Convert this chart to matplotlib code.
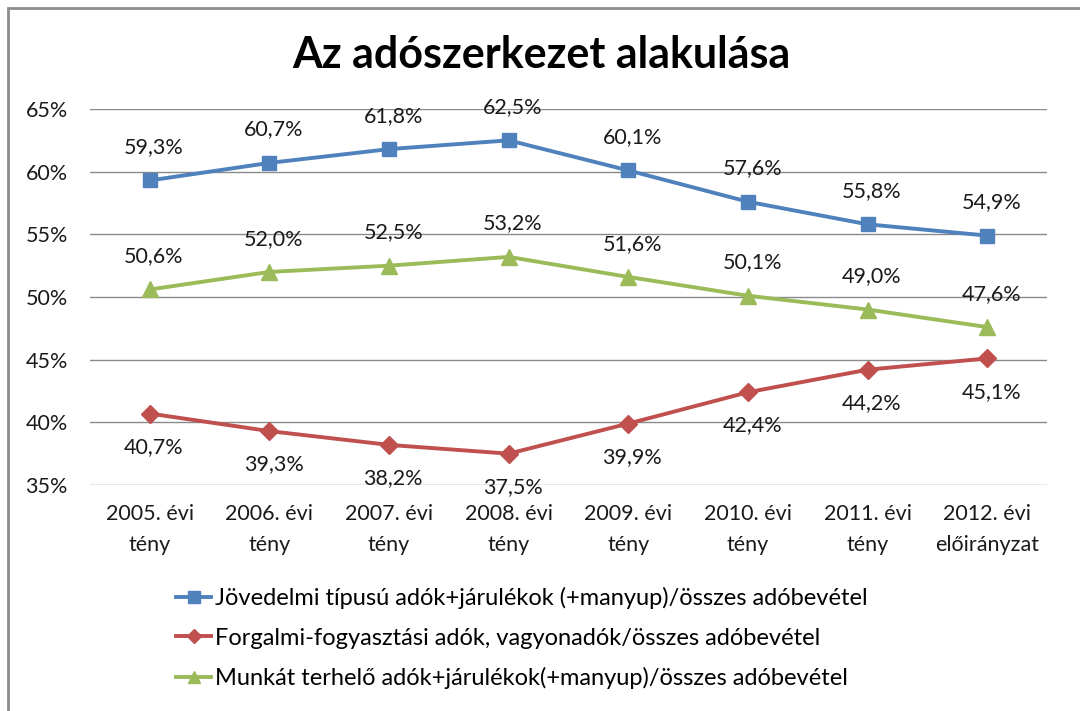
import matplotlib.pyplot as plt
from matplotlib.patches import Rectangle

categories = ["2005. évi\ntény", "2006. évi\ntény", "2007. évi\ntény", "2008. évi\ntény",
              "2009. évi\ntény", "2010. évi\ntény", "2011. évi\ntény", "2012. évi\nelőirányzat"]
jovedelmi = [59.3, 60.7, 61.8, 62.5, 60.1, 57.6, 55.8, 54.9]
forgalmi = [40.7, 39.3, 38.2, 37.5, 39.9, 42.4, 44.2, 45.1]
munkat = [50.6, 52.0, 52.5, 53.2, 51.6, 50.1, 49.0, 47.6]
names = [
    "Jövedelmi típusú adók+járulékok (+manyup)/összes adóbevétel",
    "Forgalmi-fogyasztási adók, vagyonadók/összes adóbevétel",
    "Munkát terhelő adók+járulékok(+manyup)/összes adóbevétel",
]
yticks = [35, 40, 45, 50, 55, 60, 65]

plt.rcParams["font.family"] = ["Lato", "DejaVu Sans"]

fig = plt.figure(figsize=(10.8, 7.11), dpi=100)
ax = fig.add_axes([90 / 1080, 1 - 485 / 711, (1047 - 90) / 1080, (485 - 109) / 711])

# outer chart border
fig.patches.append(Rectangle((8 / 1080, -0.1), 1.2, 1 - 8 / 711 + 0.1, transform=fig.transFigure,
                             fill=False, edgecolor="#8c8c8c", linewidth=2))

x = list(range(len(categories)))
series = [
    (jovedelmi, "#4F81BD", "s", 10, 1),
    (forgalmi, "#C0504D", "D", 9, -1),
    (munkat, "#9BBB59", "^", 11, 1),
]
for (vals, color, marker, ms, side), name in zip(series, names):
    ax.plot(x, vals, color=color, linewidth=2.8, marker=marker, markersize=ms,
            markerfacecolor=color, markeredgecolor=color, label=name, zorder=3)
    for xi, v in zip(x, vals):
        ax.annotate(f"{v:.1f}%".replace(".", ","), (xi, v), xytext=(3, 24 * side),
                    textcoords="offset points", ha="center", va="center",
                    fontsize=15.5, color="#1a1a1a")

ax.set_xlim(-0.5, len(categories) - 0.5)
ax.set_ylim(35, 65)
ax.set_yticks(yticks)
ax.set_yticklabels([f"{t}%" for t in yticks], fontsize=15.5, color="#1a1a1a")
ax.set_xticks(x)
ax.set_xticklabels(categories, fontsize=15.5, linespacing=1.65, color="#1a1a1a")
ax.tick_params(length=0)
ax.tick_params(axis="x", pad=14)
ax.tick_params(axis="y", pad=16)
ax.grid(axis="y", color="#8a8a8a", linewidth=1)
ax.set_axisbelow(True)
for s in ax.spines.values():
    s.set_visible(False)

fig.text(541 / 1080, 1 - 55 / 711, "Az adószerkezet alakulása", ha="center", va="center",
         fontsize=31, fontweight="bold")

fig.legend(loc="upper left", bbox_to_anchor=(176 / 1080, 1 - 587 / 711), frameon=False,
           fontsize=17, handlelength=1.5, handletextpad=0.15, labelspacing=0.78,
           borderaxespad=0, borderpad=0, markerscale=0.8)

fig.savefig("out.png", dpi=100)
